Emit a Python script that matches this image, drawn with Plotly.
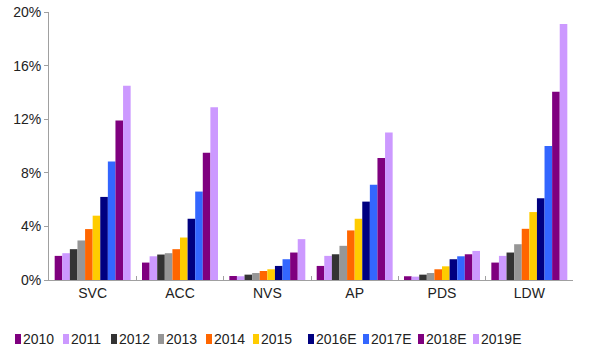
import plotly.graph_objects as go

categories = ["SVC", "ACC", "NVS", "AP", "PDS", "LDW"]
years = ["2010", "2011", "2012", "2013", "2014", "2015", "2016E", "2017E", "2018E", "2019E"]
colors = ["#7F007F", "#CC99FF", "#333333", "#969696", "#FF6600", "#FFCC00",
          "#000080", "#3366FF", "#7F007F", "#CC99FF"]

v2010 = [1.8, 1.3, 0.3, 1.05, 0.28, 1.3]
v2011 = [2.0, 1.77, 0.28, 1.8, 0.25, 1.8]
v2012 = [2.3, 1.9, 0.4, 1.92, 0.4, 2.05]
v2013 = [2.95, 2.0, 0.52, 2.55, 0.52, 2.67]
v2014 = [3.8, 2.3, 0.67, 3.7, 0.8, 3.82]
v2015 = [4.8, 3.17, 0.8, 4.57, 1.02, 5.07]
v2016E = [6.2, 4.57, 1.05, 5.85, 1.55, 6.1]
v2017E = [8.85, 6.6, 1.55, 7.1, 1.77, 10.0]
v2018E = [11.9, 9.5, 2.05, 9.1, 1.92, 14.05]
v2019E = [14.5, 12.9, 3.05, 11.0, 2.17, 19.1]

series = [v2010, v2011, v2012, v2013, v2014, v2015, v2016E, v2017E, v2018E, v2019E]

W, H = 590, 352
ml, mr, mt, mb = 49, 17, 12, 72
pw, ph = W - ml - mr, H - mt - mb

font_family = "Liberation Sans, Arial, sans-serif"
fig = go.Figure()
for name, vals, c in zip(years, series, colors):
    fig.add_trace(go.Bar(x=categories, y=vals, name=name, marker=dict(color=c, line=dict(width=0)),
                         showlegend=False))

# manual legend (compact, like the reference)
legend_x = [15, 63, 111, 158, 206, 253, 308, 363, 418, 473]
legend_y = 339
shapes = []
annotations = []
for name, c, lx in zip(years, colors, legend_x):
    x0 = (lx - ml) / pw
    x1 = (lx + 6 - ml) / pw
    y0 = (mt + ph - (legend_y + 5)) / ph
    y1 = (mt + ph - (legend_y - 5)) / ph
    shapes.append(dict(type="rect", xref="paper", yref="paper", x0=x0, x1=x1, y0=y0, y1=y1,
                       fillcolor=c, line=dict(width=0)))
    annotations.append(dict(xref="paper", yref="paper", x=(lx + 6 - ml) / pw,
                            y=(mt + ph - legend_y) / ph, text=name, showarrow=False,
                            xanchor="left", yanchor="middle",
                            font=dict(family=font_family, size=14, color="#222222")))

fig.update_layout(
    width=W, height=H,
    margin=dict(l=ml, r=mr, t=mt, b=mb, pad=0, autoexpand=False),
    barmode="group", bargap=0.13, bargroupgap=0,
    plot_bgcolor="white", paper_bgcolor="white",
    font=dict(family=font_family, size=14, color="#222222"),
    shapes=shapes, annotations=annotations,
    xaxis=dict(showline=True, linecolor="#A0A0A0", linewidth=1, ticks="inside",
               tickson="boundaries", ticklen=4, tickcolor="#A0A0A0", automargin=False,
               showgrid=False, tickfont=dict(size=14), mirror=False),
    yaxis=dict(range=[0, 20], dtick=4, ticksuffix="%", showline=True, linecolor="#A0A0A0",
               linewidth=1, ticks="outside", ticklen=4, tickcolor="#A0A0A0", showgrid=False,
               zeroline=False, tickfont=dict(size=14), automargin=False),
)

fig.write_html("out.html", post_script="document.body.style.margin='0';",
               config={"displayModeBar": False})
